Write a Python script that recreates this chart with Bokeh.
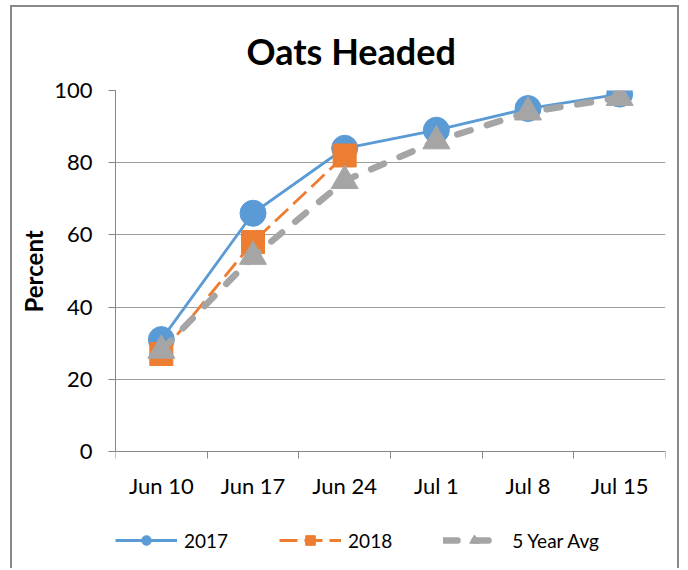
import numpy as np
from bokeh.plotting import figure
from bokeh.models import (FixedTicker, Legend, LegendItem, Title, Range1d)
from bokeh.embed import file_html
from bokeh.resources import INLINE

categories = ["Jun 10", "Jun 17", "Jun 24", "Jul 1", "Jul 8", "Jul 15"]
y2017 = [31, 66, 84, 89, 95, 99]
y2018 = [27, 58, 82]
y5avg = [28, 54, 75, 86, 94, 98]
y_ticks = [0, 20, 40, 60, 80, 100]

FONT = "Lato"
BLUE, ORANGE, GRAY = "#5B9BD5", "#ED7D31", "#A5A5A5"

xpos = np.arange(len(categories)) + 0.5

# layout: the value area (0..100) is 361 px tall; the frame extends below it
# to hold the category labels and the legend
W, H, TOP, LEFT, RIGHT = 669, 563, 83, 101, 16
VALUE_H = 361
frame_h = H - TOP
y_min = -100.0 * (frame_h - VALUE_H) / VALUE_H

p = figure(width=W, height=H, output_backend="svg", toolbar_location=None,
           x_range=Range1d(0, len(categories)), y_range=Range1d(y_min, 100),
           min_border_left=LEFT, min_border_right=RIGHT, min_border_top=TOP,
           min_border_bottom=0)
p.styles = {"border-left": "2px solid #898989", "border-top": "2px solid #898989",
            "border-right": "2px solid #898989",
            "margin-left": "10px", "margin-top": "5px"}
p.outline_line_color = None
p.background_fill_color = "white"
p.border_fill_color = "white"

title = Title(text="Oats Headed", text_font=FONT, text_font_size="36px",
              text_font_style="bold", text_color="black", align="left",
              offset=131, standoff=35)
p.add_layout(title, "above")

# x axis drawn at y = 0
p.xaxis.fixed_location = 0
p.xaxis.ticker = FixedTicker(ticks=list(xpos), minor_ticks=list(range(len(categories) + 1)))
p.xaxis.major_label_overrides = {float(x): c for x, c in zip(xpos, categories)}
p.xaxis.major_tick_line_color = None
p.xaxis.major_tick_out = 0
p.xaxis.minor_tick_out = 7
p.xaxis.minor_tick_in = 0
p.xaxis.minor_tick_line_color = "#868686"
p.xaxis.axis_line_color = "#868686"
p.xaxis.major_label_text_font = FONT
p.xaxis.major_label_text_font_size = "22px"
p.xaxis.major_label_text_color = "black"
p.xaxis.major_label_standoff = 13

p.yaxis.bounds = (0, 100)
p.yaxis.ticker = FixedTicker(ticks=y_ticks)
p.yaxis.minor_tick_line_color = None
p.yaxis.major_tick_out = 7
p.yaxis.major_tick_in = 0
p.yaxis.major_tick_line_color = "#868686"
p.yaxis.axis_line_color = "#868686"
p.yaxis.major_label_text_font = FONT
p.yaxis.major_label_text_font_size = "22px"
p.yaxis.major_label_text_color = "black"
p.yaxis.major_label_standoff = 16

# y axis title, centred on the 0..100 span
ytitle = Title(text="Percent", text_font=FONT, text_font_size="24px",
               text_font_style="bold", text_color="black", align="left",
               offset=258, standoff=8)
p.add_layout(ytitle, "left")

p.xgrid.grid_line_color = None
p.ygrid.ticker = FixedTicker(ticks=y_ticks)
p.ygrid.grid_line_color = "#9E9E9E"
p.ygrid.grid_line_width = 1.2

# series
l1 = p.line(xpos, y2017, line_color=BLUE, line_width=2.8)
m1 = p.scatter(xpos, y2017, marker="circle", size=26, fill_color=BLUE, line_color=BLUE)

x18 = xpos[:len(y2018)]
l2 = p.line(x18, y2018, line_color=ORANGE, line_width=2.8, line_dash="18 7")
m2 = p.scatter(x18, y2018, marker="square", size=23, fill_color=ORANGE, line_color=ORANGE)

l3 = p.line(xpos, y5avg, line_color=GRAY, line_width=6.5, line_dash="14 17",
            line_cap="round")
m3 = p.scatter(xpos, y5avg, marker="triangle", size=27, fill_color=GRAY, line_color=GRAY)

legend = Legend(items=[LegendItem(label="2017", renderers=[l1, m1]),
                       LegendItem(label="2018", renderers=[l2, m2]),
                       LegendItem(label="5 Year Avg", renderers=[l3, m3])],
                orientation="horizontal", location=(0, 18),
                glyph_width=62, glyph_height=24, label_standoff=7, spacing=51,
                padding=0, margin=0, border_line_color=None,
                background_fill_alpha=0,
                label_text_font=FONT, label_text_font_size="19px",
                label_text_color="black")
p.add_layout(legend, "center")

open("out.html", "w").write(file_html(p, INLINE))
